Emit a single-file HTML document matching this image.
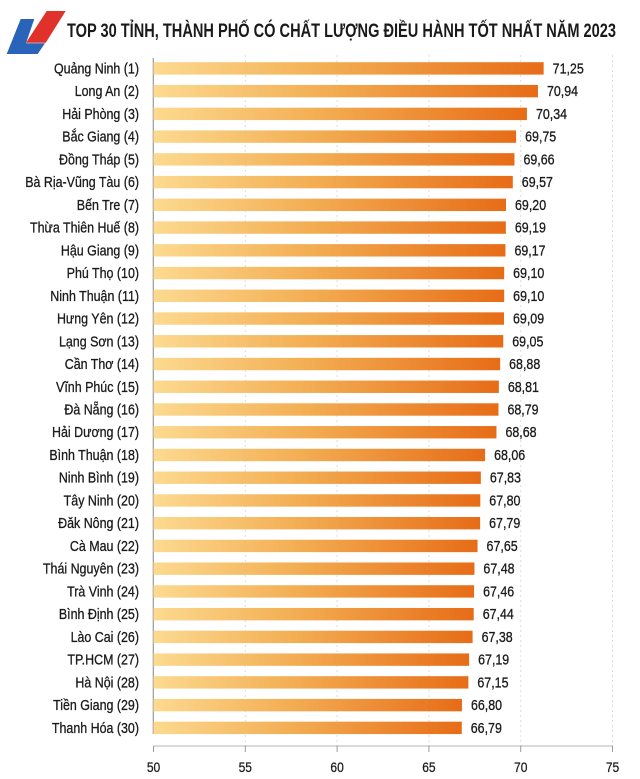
<!DOCTYPE html>
<html>
<head>
<meta charset="utf-8">
<style>
html,body{margin:0;padding:0;background:#fff;}
svg{display:block;}
text{font-family:"Liberation Sans","DejaVu Sans",sans-serif;fill:#1a1a1a;}
.lb text{font-size:15px;stroke:#1a1a1a;stroke-width:0.3px;}
.tk text{font-size:14px;stroke:#1a1a1a;stroke-width:0.25px;}
</style>
</head>
<body>
<svg width="640" height="779" viewBox="0 0 640 779" xmlns="http://www.w3.org/2000/svg">
<defs>
<linearGradient id="g" x1="0" y1="0" x2="1" y2="0">
<stop offset="0" stop-color="#fcda90"/>
<stop offset="0.45" stop-color="#f3ad52"/>
<stop offset="1" stop-color="#e76c17"/>
</linearGradient>
</defs>
<rect width="640" height="779" fill="#fff"/>
<!-- logo -->
<polygon points="46.7,11 65.7,11 45.7,42.7 26,42.7" fill="#e0312b"/>
<polygon points="20.7,19 34.3,19 26,43.3 45,43.3 37.7,54 6.7,54" fill="#2a64b8"/>
<text x="67" y="37" font-size="19.5" font-weight="bold" textLength="549" lengthAdjust="spacingAndGlyphs">TOP 30 TỈNH, THÀNH PHỐ CÓ CHẤT LƯỢNG ĐIỀU HÀNH TỐT NHẤT NĂM 2023</text>
<!-- grid -->
<g stroke="#dcdcdc" stroke-width="1" stroke-dasharray="2,3">
<line x1="245.3" y1="55" x2="245.3" y2="746"/>
<line x1="337.1" y1="55" x2="337.1" y2="746"/>
<line x1="428.9" y1="55" x2="428.9" y2="746"/>
<line x1="520.7" y1="55" x2="520.7" y2="746"/>
<line x1="612.5" y1="55" x2="612.5" y2="746"/>
</g>
<line x1="153.3" y1="58" x2="153.3" y2="734" stroke="#9a9a9a" stroke-width="1.2"/>
<!-- bars -->
<g fill="url(#g)">
<rect x="153.5" y="62.2" width="390.15" height="12.4"/>
<rect x="153.5" y="84.94" width="384.46" height="12.4"/>
<rect x="153.5" y="107.68" width="373.44" height="12.4"/>
<rect x="153.5" y="130.42" width="362.61" height="12.4"/>
<rect x="153.5" y="153.16" width="360.96" height="12.4"/>
<rect x="153.5" y="175.9" width="359.31" height="12.4"/>
<rect x="153.5" y="198.64" width="352.51" height="12.4"/>
<rect x="153.5" y="221.38" width="352.32" height="12.4"/>
<rect x="153.5" y="244.12" width="351.96" height="12.4"/>
<rect x="153.5" y="266.86" width="350.68" height="12.4"/>
<rect x="153.5" y="289.6" width="350.68" height="12.4"/>
<rect x="153.5" y="312.34" width="350.49" height="12.4"/>
<rect x="153.5" y="335.08" width="349.76" height="12.4"/>
<rect x="153.5" y="357.82" width="346.64" height="12.4"/>
<rect x="153.5" y="380.56" width="345.35" height="12.4"/>
<rect x="153.5" y="403.3" width="344.98" height="12.4"/>
<rect x="153.5" y="426.04" width="342.96" height="12.4"/>
<rect x="153.5" y="448.78" width="331.58" height="12.4"/>
<rect x="153.5" y="471.52" width="327.36" height="12.4"/>
<rect x="153.5" y="494.26" width="326.81" height="12.4"/>
<rect x="153.5" y="517.0" width="326.62" height="12.4"/>
<rect x="153.5" y="539.74" width="324.05" height="12.4"/>
<rect x="153.5" y="562.48" width="320.93" height="12.4"/>
<rect x="153.5" y="585.22" width="320.57" height="12.4"/>
<rect x="153.5" y="607.96" width="320.20" height="12.4"/>
<rect x="153.5" y="630.7" width="319.10" height="12.4"/>
<rect x="153.5" y="653.44" width="315.61" height="12.4"/>
<rect x="153.5" y="676.18" width="314.87" height="12.4"/>
<rect x="153.5" y="698.92" width="308.45" height="12.4"/>
<rect x="153.5" y="721.66" width="308.26" height="12.4"/>
</g>
<!-- category labels -->
<g class="lb" text-anchor="end">
<text transform="translate(139,73.4) scale(0.83,1)">Quảng Ninh (1)</text>
<text transform="translate(139,96.14) scale(0.83,1)">Long An (2)</text>
<text transform="translate(139,118.88) scale(0.83,1)">Hải Phòng (3)</text>
<text transform="translate(139,141.62) scale(0.83,1)">Bắc Giang (4)</text>
<text transform="translate(139,164.36) scale(0.83,1)">Đồng Tháp (5)</text>
<text transform="translate(139,187.1) scale(0.83,1)">Bà Rịa-Vũng Tàu (6)</text>
<text transform="translate(139,209.84) scale(0.83,1)">Bến Tre (7)</text>
<text transform="translate(139,232.58) scale(0.83,1)">Thừa Thiên Huế (8)</text>
<text transform="translate(139,255.32) scale(0.83,1)">Hậu Giang (9)</text>
<text transform="translate(139,278.06) scale(0.83,1)">Phú Thọ (10)</text>
<text transform="translate(139,300.8) scale(0.83,1)">Ninh Thuận (11)</text>
<text transform="translate(139,323.54) scale(0.83,1)">Hưng Yên (12)</text>
<text transform="translate(139,346.28) scale(0.83,1)">Lạng Sơn (13)</text>
<text transform="translate(139,369.02) scale(0.83,1)">Cần Thơ (14)</text>
<text transform="translate(139,391.76) scale(0.83,1)">Vĩnh Phúc (15)</text>
<text transform="translate(139,414.5) scale(0.83,1)">Đà Nẵng (16)</text>
<text transform="translate(139,437.24) scale(0.83,1)">Hải Dương (17)</text>
<text transform="translate(139,459.98) scale(0.83,1)">Bình Thuận (18)</text>
<text transform="translate(139,482.72) scale(0.83,1)">Ninh Bình (19)</text>
<text transform="translate(139,505.46) scale(0.83,1)">Tây Ninh (20)</text>
<text transform="translate(139,528.2) scale(0.83,1)">Đăk Nông (21)</text>
<text transform="translate(139,550.94) scale(0.83,1)">Cà Mau (22)</text>
<text transform="translate(139,573.68) scale(0.83,1)">Thái Nguyên (23)</text>
<text transform="translate(139,596.42) scale(0.83,1)">Trà Vinh (24)</text>
<text transform="translate(139,619.16) scale(0.83,1)">Bình Định (25)</text>
<text transform="translate(139,641.9) scale(0.83,1)">Lào Cai (26)</text>
<text transform="translate(139,664.64) scale(0.83,1)">TP.HCM (27)</text>
<text transform="translate(139,687.38) scale(0.83,1)">Hà Nội (28)</text>
<text transform="translate(139,710.12) scale(0.83,1)">Tiền Giang (29)</text>
<text transform="translate(139,732.86) scale(0.83,1)">Thanh Hóa (30)</text>
</g>
<!-- value labels -->
<g class="lb">
<text transform="translate(552.65,73.4) scale(0.83,1)">71,25</text>
<text transform="translate(546.96,96.14) scale(0.83,1)">70,94</text>
<text transform="translate(535.94,118.88) scale(0.83,1)">70,34</text>
<text transform="translate(525.11,141.62) scale(0.83,1)">69,75</text>
<text transform="translate(523.46,164.36) scale(0.83,1)">69,66</text>
<text transform="translate(521.81,187.1) scale(0.83,1)">69,57</text>
<text transform="translate(515.01,209.84) scale(0.83,1)">69,20</text>
<text transform="translate(514.82,232.58) scale(0.83,1)">69,19</text>
<text transform="translate(514.46,255.32) scale(0.83,1)">69,17</text>
<text transform="translate(513.18,278.06) scale(0.83,1)">69,10</text>
<text transform="translate(513.18,300.8) scale(0.83,1)">69,10</text>
<text transform="translate(512.99,323.54) scale(0.83,1)">69,09</text>
<text transform="translate(512.26,346.28) scale(0.83,1)">69,05</text>
<text transform="translate(509.14,369.02) scale(0.83,1)">68,88</text>
<text transform="translate(507.85,391.76) scale(0.83,1)">68,81</text>
<text transform="translate(507.48,414.5) scale(0.83,1)">68,79</text>
<text transform="translate(505.46,437.24) scale(0.83,1)">68,68</text>
<text transform="translate(494.08,459.98) scale(0.83,1)">68,06</text>
<text transform="translate(489.86,482.72) scale(0.83,1)">67,83</text>
<text transform="translate(489.31,505.46) scale(0.83,1)">67,80</text>
<text transform="translate(489.12,528.2) scale(0.83,1)">67,79</text>
<text transform="translate(486.55,550.94) scale(0.83,1)">67,65</text>
<text transform="translate(483.43,573.68) scale(0.83,1)">67,48</text>
<text transform="translate(483.07,596.42) scale(0.83,1)">67,46</text>
<text transform="translate(482.70,619.16) scale(0.83,1)">67,44</text>
<text transform="translate(481.60,641.9) scale(0.83,1)">67,38</text>
<text transform="translate(478.11,664.64) scale(0.83,1)">67,19</text>
<text transform="translate(477.37,687.38) scale(0.83,1)">67,15</text>
<text transform="translate(470.95,710.12) scale(0.83,1)">66,80</text>
<text transform="translate(470.76,732.86) scale(0.83,1)">66,79</text>
</g>
<!-- x axis -->
<line x1="153.5" y1="746" x2="612.5" y2="746" stroke="#b4b4b4" stroke-width="1"/>
<g stroke="#9a9a9a" stroke-width="1">
<line x1="153.5" y1="746" x2="153.5" y2="752"/>
<line x1="245.3" y1="746" x2="245.3" y2="752"/>
<line x1="337.1" y1="746" x2="337.1" y2="752"/>
<line x1="428.9" y1="746" x2="428.9" y2="752"/>
<line x1="520.7" y1="746" x2="520.7" y2="752"/>
<line x1="612.5" y1="746" x2="612.5" y2="752"/>
</g>
<g class="tk" text-anchor="middle">
<text transform="translate(153.5,772) scale(0.86,1)">50</text>
<text transform="translate(245.3,772) scale(0.86,1)">55</text>
<text transform="translate(337.1,772) scale(0.86,1)">60</text>
<text transform="translate(428.9,772) scale(0.86,1)">65</text>
<text transform="translate(520.7,772) scale(0.86,1)">70</text>
<text transform="translate(612.5,772) scale(0.86,1)">75</text>
</g>
</svg>
</body>
</html>
